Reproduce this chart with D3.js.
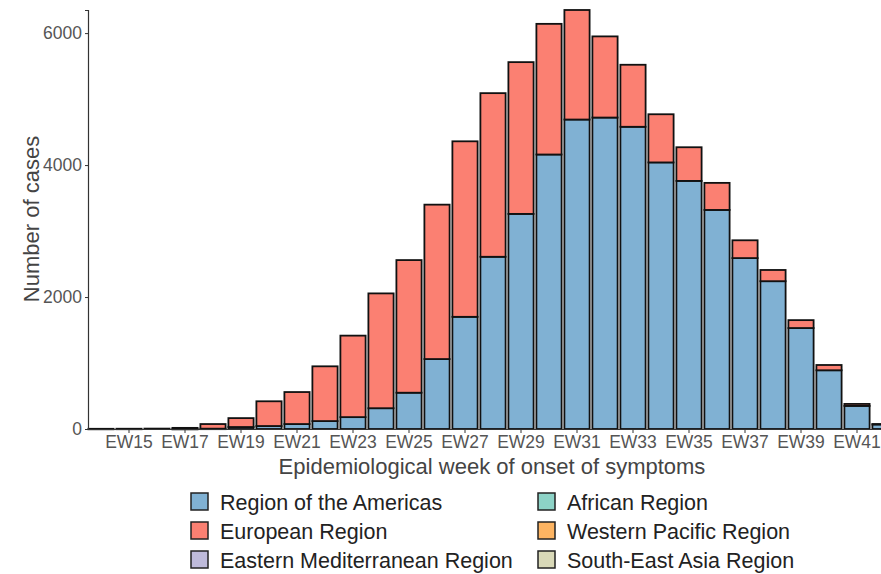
<!DOCTYPE html>
<html>
<head>
<meta charset="utf-8">
<script src="https://cdn.jsdelivr.net/npm/d3@7"></script>
<style>
  body { margin: 0; background: #fff; }
  svg { display: block; font-family: "Liberation Sans", Arial, sans-serif; }
</style>
</head>
<body>
<div id="chart"></div>
<script>
var weeks = ["EW14","EW15","EW16","EW17","EW18","EW19","EW20","EW21","EW22","EW23","EW24","EW25","EW26","EW27",
             "EW28","EW29","EW30","EW31","EW32","EW33","EW34","EW35","EW36","EW37","EW38","EW39","EW40","EW41","EW42"];

var americas = [0, 0, 0, 2, 5, 30, 45, 75, 120, 180, 315, 550, 1060, 1700,
                2610, 3260, 4160, 4690, 4720, 4580, 4040, 3760, 3320, 2590, 2240, 1530, 890, 350, 70];
var european = [3, 4, 6, 15, 70, 135, 375, 485, 830, 1235, 1740, 2010, 2340, 2660,
                2480, 2300, 1980, 1660, 1230, 940, 730, 510, 410, 270, 170, 120, 80, 30, 5];
var eastMed  = [0, 0, 0, 0, 0, 0, 0, 0, 0, 0, 0, 0, 0, 0, 0, 0, 0, 0, 0, 0, 0, 0, 0, 0, 0, 0, 0, 0, 0];
var african  = [0, 0, 0, 0, 0, 0, 0, 0, 0, 0, 0, 0, 0, 0, 0, 0, 0, 0, 0, 0, 0, 0, 0, 0, 0, 0, 0, 0, 0];
var westPac  = [0, 0, 0, 0, 0, 0, 0, 0, 0, 0, 0, 0, 0, 0, 0, 0, 0, 0, 0, 0, 0, 0, 0, 0, 0, 0, 0, 0, 0];
var seAsia   = [0, 0, 0, 0, 0, 0, 0, 0, 0, 0, 0, 0, 0, 0, 0, 0, 0, 0, 0, 0, 0, 0, 0, 0, 0, 0, 0, 0, 0];

var regions = ["Region of the Americas", "European Region", "Eastern Mediterranean Region",
               "African Region", "Western Pacific Region", "South-East Asia Region"];
var colors = ["#80B1D3", "#FB8072", "#BEBADA", "#8DD3C7", "#FDB462", "#D9D9B8"];
var yTicks = [0, 2000, 4000, 6000];

var W = 881, H = 574;

var svg = d3.select("#chart")
    .append("svg")
        .attr("width", W)
        .attr("height", H);

var rows = weeks.map(function(w, i) {
    return { week: w, r0: americas[i], r1: european[i], r2: eastMed[i],
             r3: african[i], r4: westPac[i], r5: seAsia[i] };
});
var keys = ["r0","r1","r2","r3","r4","r5"];
var stacked = d3.stack().keys(keys)(rows);

var x = d3.scaleBand()
    .domain(weeks)
    .range([87, 87 + weeks.length * 28])
    .paddingInner(0.1)
    .paddingOuter(0.05);

var y = d3.scaleLinear()
    .domain([0, 6350])
    .range([429, 10]);

// bars
svg.append("g")
    .selectAll("g")
    .data(stacked)
    .enter()
    .append("g")
        .attr("fill", function(d, i) { return colors[i]; })
    .selectAll("rect")
    .data(function(d) { return d.filter(function(s) { return s[1] - s[0] > 0; }); })
    .enter()
    .append("rect")
        .attr("x", function(d) { return x(d.data.week); })
        .attr("y", function(d) { return y(d[1]); })
        .attr("width", x.bandwidth())
        .attr("height", function(d) { return Math.max(0.5, y(d[0]) - y(d[1])); })
        .attr("stroke", "#111")
        .attr("stroke-width", 1.8);

// y axis
var yAxis = svg.append("g")
    .attr("transform", "translate(88,0)")
    .call(d3.axisLeft(y).tickValues(yTicks).tickSize(3).tickPadding(3).tickFormat(d3.format("d")));
yAxis.select(".domain").attr("stroke", "#333").attr("stroke-width", 1.2);
yAxis.selectAll(".tick line").attr("stroke", "#333");
yAxis.selectAll(".tick text").attr("fill", "#555").style("font-size", "17.5px");

// x axis
var xAxis = svg.append("g")
    .attr("transform", "translate(0,429)")
    .call(d3.axisBottom(x)
        .tickValues(weeks.filter(function(w, i) { return i % 2 === 1; }))
        .tickSize(4).tickPadding(3).tickSizeOuter(0));
xAxis.select(".domain").attr("d", "M88,0.5H" + W).attr("stroke", "#333").attr("stroke-width", 1.2);
xAxis.selectAll(".tick line").attr("stroke", "#333");
xAxis.selectAll(".tick text").attr("fill", "#555").style("font-size", "17.5px");

// axis titles
svg.append("text")
    .attr("x", 492)
    .attr("y", 474)
    .style("text-anchor", "middle")
    .style("font-size", "22px")
    .attr("fill", "#444")
    .text("Epidemiological week of onset of symptoms");

svg.append("text")
    .attr("transform", "translate(39,219) rotate(-90)")
    .style("text-anchor", "middle")
    .style("font-size", "22px")
    .attr("fill", "#444")
    .text("Number of cases");

// legend
var legendPos = [[190, 502], [190, 531], [190, 560], [537, 502], [537, 531], [537, 560]];
var legend = svg.append("g")
    .selectAll("g")
    .data(regions)
    .enter()
    .append("g")
        .attr("transform", function(d, i) { return "translate(" + legendPos[i][0] + "," + legendPos[i][1] + ")"; });

legend.append("rect")
    .attr("x", 1)
    .attr("y", -9)
    .attr("width", 17)
    .attr("height", 17)
    .attr("fill", function(d, i) { return colors[i]; })
    .attr("stroke", "#222")
    .attr("stroke-width", 1.5);

legend.append("text")
    .attr("x", 30)
    .attr("y", 0)
    .attr("dy", "0.35em")
    .style("font-size", "21.5px")
    .attr("fill", "#222")
    .text(function(d) { return d; });
</script>
</body>
</html>
